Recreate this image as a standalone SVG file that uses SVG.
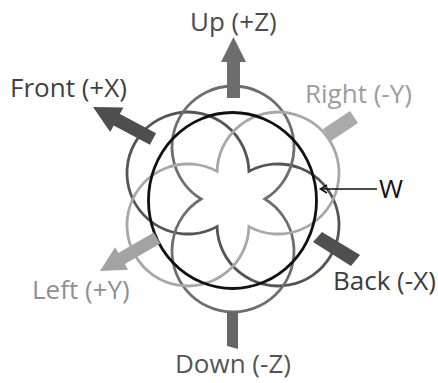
<svg xmlns="http://www.w3.org/2000/svg" width="438" height="383" viewBox="0 0 438 383">
<style>
.lobe{fill:none;stroke-width:2.8}
.ud{stroke:#6e6e6e}
.fb{stroke:#555555}
.rl{stroke:#a8a8a8}
.lbl{font-family:"Open Sans","Liberation Sans",sans-serif;font-size:26px}
</style>
<rect width="438" height="383" fill="#ffffff"/>
<g id="patterns">
<g id="dipole-x"><path class="lobe fb" d="M248.95 171.38 A61 61 0 1 1 217.05 226.62 A61 61 0 1 1 248.95 171.38 Z"/></g>
<g id="dipole-z"><path class="lobe ud" d="M201.11 199 A61 61 0 1 1 264.89 199 A61 61 0 1 1 201.11 199 Z"/></g>
<g id="dipole-y"><path class="lobe rl" d="M217.05 171.38 A61 61 0 1 1 248.95 226.62 A61 61 0 1 1 217.05 171.38 Z"/></g>
<g id="omni-w"><ellipse cx="232.5" cy="200.5" rx="84" ry="88" fill="none" stroke="#111111" stroke-width="2.8"/></g>
</g>
<g id="connectors">
<polygon id="arrow-up" fill="#6d6d6d" points="227,98 240,98 240,62 246,62 233.5,37 221,62 227,62"/>
<polygon id="arrow-front" fill="#4e4e4e" points="156.1,133.3 119.9,114.0 123.4,107.4 93,107 110.2,132.0 113.7,125.4 149.9,144.7"/>
<polygon id="arrow-left" fill="#a3a3a3" points="153.75,232.4 118.35,252.9 115.1,247.25 100,271 128.1,269.75 124.85,264.1 160.25,243.6"/>
<polygon id="bar-right" fill="#aaaaaa" points="323,129 331,141 358,123 350,111"/>
<polygon id="bar-back" fill="#4f4f4f" points="313,242 322,232 360,255 351,266"/>
<polygon id="bar-down" fill="#666666" points="227,312 238,312 238,349 227,346"/>
<g id="w-pointer" fill="none" stroke="#111111" stroke-width="1.6">
<line x1="321" y1="189" x2="377" y2="189"/>
<polyline points="327,185 320.5,189 327,193"/>
</g>
</g>
<g id="labels" class="lbl">
<text id="t-up" x="190" y="31" fill="#4a4a4a">Up (+Z)</text>
<text id="t-front" x="10" y="97" fill="#404040">Front (+X)</text>
<text id="t-right" x="305" y="103" fill="#9c9c9c">Right (-Y)</text>
<text id="t-w" x="379" y="198" fill="#111111">W</text>
<text id="t-back" x="333" y="290" fill="#3c3c3c">Back (-X)</text>
<text id="t-left" x="32" y="299" fill="#909090">Left (+Y)</text>
<text id="t-down" x="175" y="373" fill="#555555">Down (-Z)</text>
</g>
</svg>
